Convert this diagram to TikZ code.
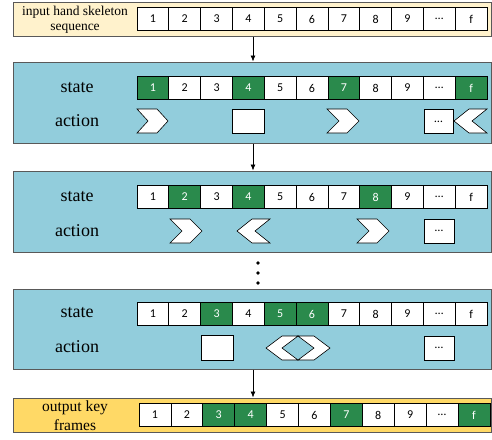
\documentclass[tikz,border=0pt]{standalone}
\usepackage{fontspec}
\setmainfont{Liberation Serif}
\newfontfamily\cellfont{Carlito}
\usetikzlibrary{arrows.meta}
\definecolor{panelblue}{HTML}{92CDDC}
\definecolor{inbeige}{HTML}{FFF2CC}
\definecolor{outyellow}{HTML}{FFD966}
\definecolor{kgreen}{HTML}{2A8A4C}
\definecolor{framegray}{HTML}{595959}
\newcommand\myrchev[4]{% xleft, xright, ytop, notch depth
  \draw[act] (#1,#3) -- ({#2-#4},#3) -- (#2,{#3+12}) -- ({#2-#4},{#3+24}) -- (#1,{#3+24}) -- ({#1+#4},{#3+12}) -- cycle;}
\newcommand\mylchev[4]{%
  \draw[act] ({#1+#4},#3) -- (#2,#3) -- ({#2-#4},{#3+12}) -- (#2,{#3+24}) -- ({#1+#4},{#3+24}) -- (#1,{#3+12}) -- cycle;}
\begin{document}
\begin{tikzpicture}[x=1pt,y=-1pt,
  panel/.style={draw=framegray, line width=1pt, minimum width=478pt, inner sep=0pt},
  cell/.style={draw=black, line width=0.7pt, fill=white, text=black, minimum width=31.82pt, minimum height=23pt, inner sep=0pt, font=\cellfont\fontsize{12}{14}\selectfont},
  gcell/.style={cell, fill=kgreen, text=white},
  act/.style={draw=black, line width=0.6pt, fill=white},
  actbox/.style={act, minimum width=31pt, minimum height=24pt, inner sep=0pt, font=\cellfont\fontsize{12}{14}\selectfont},
  lbl/.style={font=\fontsize{18}{20}\selectfont, inner sep=0pt},
  arr/.style={-{Latex[length=6pt,width=5pt]}, line width=0.7pt, black},
  dotn/.style={circle, fill=black, minimum size=3.6pt, inner sep=0pt}]
\useasboundingbox (0,0) rectangle (492,439);

% panels
\node[panel, fill=inbeige, minimum height=34pt] (inp) at (252,19) {};
\node[panel, fill=panelblue, minimum height=81pt] (b1) at (252,102.5) {};
\node[panel, fill=panelblue, minimum height=81pt] (b2) at (252,211.5) {};
\node[panel, fill=panelblue, minimum height=80pt] (b3) at (252,329) {};
\node[panel, fill=outyellow, minimum height=34pt] (outp) at (252,415) {};

% side labels
\node[align=center, font=\fontsize{13.5}{15}\selectfont, inner sep=0pt] (inlbl) at (75,19.5) {input hand skeleton\\sequence};
\node[align=center, font=\fontsize{15.5}{19}\selectfont, inner sep=0pt] (outlbl) at (75,416) {output key\\frames};
\node[lbl] (s1) at (77,88) {state};
\node[lbl] (ac1) at (77,121) {action};
\node[lbl] (s2) at (77,197) {state};
\node[lbl] (ac2) at (77,231) {action};
\node[lbl] (s3) at (77,313) {state};
\node[lbl] (ac3) at (77,347) {action};

% cells
\foreach \i/\t/\s in {1/1/cell,2/2/cell,3/3/cell,4/4/cell,5/5/cell,6/6/cell,7/7/cell,8/8/cell,9/9/cell,10/…/cell,11/f/cell}
  \node[\s] (t\i) at ({137+(\i-0.5)*31.82},19) {\t};
\foreach \i/\t/\s in {1/1/gcell,2/2/cell,3/3/cell,4/4/gcell,5/5/cell,6/6/cell,7/7/gcell,8/8/cell,9/9/cell,10/…/cell,11/f/gcell}
  \node[\s] (p\i) at ({137+(\i-0.5)*31.82},88) {\t};
\foreach \i/\t/\s in {1/1/cell,2/2/gcell,3/3/cell,4/4/gcell,5/5/cell,6/6/cell,7/7/cell,8/8/gcell,9/9/cell,10/…/cell,11/f/cell}
  \node[\s] (q\i) at ({137+(\i-0.5)*31.82},197) {\t};
\foreach \i/\t/\s in {1/1/cell,2/2/cell,3/3/gcell,4/4/cell,5/5/gcell,6/6/gcell,7/7/cell,8/8/cell,9/9/cell,10/…/cell,11/f/cell}
  \node[\s] (r\i) at ({137+(\i-0.5)*31.82},314) {\t};
\foreach \i/\t/\s in {1/1/cell,2/2/cell,3/3/gcell,4/4/gcell,5/5/cell,6/6/cell,7/7/gcell,8/8/cell,9/9/cell,10/…/cell,11/f/gcell}
  \node[\s, minimum width=31.9pt] (o\i) at ({139+(\i-0.5)*31.9},415) {\t};

% actions, panel 1
\myrchev{137}{168}{109}{11}
\node[actbox, minimum width=32pt] (x1) at (248,121) {};
\myrchev{327}{359}{109}{12}
\node[actbox, minimum width=29pt] (e1) at (438.5,121.5) {…};
\mylchev{454}{487}{109}{15}

% actions, panel 2
\myrchev{170}{202}{219}{12}
\mylchev{237}{270}{219}{15}
\myrchev{357}{389}{219}{12}
\node[actbox, minimum width=30pt] (e2) at (439,231) {…};

% actions, panel 3
\node[actbox, minimum width=32pt, minimum height=25pt] (x3) at (217,347.5) {};
\mylchev{266}{298}{336}{16}
\myrchev{298}{330}{336}{16}
\node[actbox, minimum width=30pt] (e3) at (439,348) {…};

% dots
\node[dotn] (d1) at (258,263) {};
\node[dotn] (d2) at (258,273) {};
\node[dotn] (d3) at (258,283) {};

% arrows
\draw[arr] ([xshift=1pt]inp.south) -- ([xshift=1pt]b1.north);
\draw[arr] ([xshift=1pt]b1.south) -- ([xshift=1pt]b2.north);
\draw[arr] ([xshift=1pt]b3.south) -- ([xshift=1pt]outp.north);
\end{tikzpicture}
\end{document}
